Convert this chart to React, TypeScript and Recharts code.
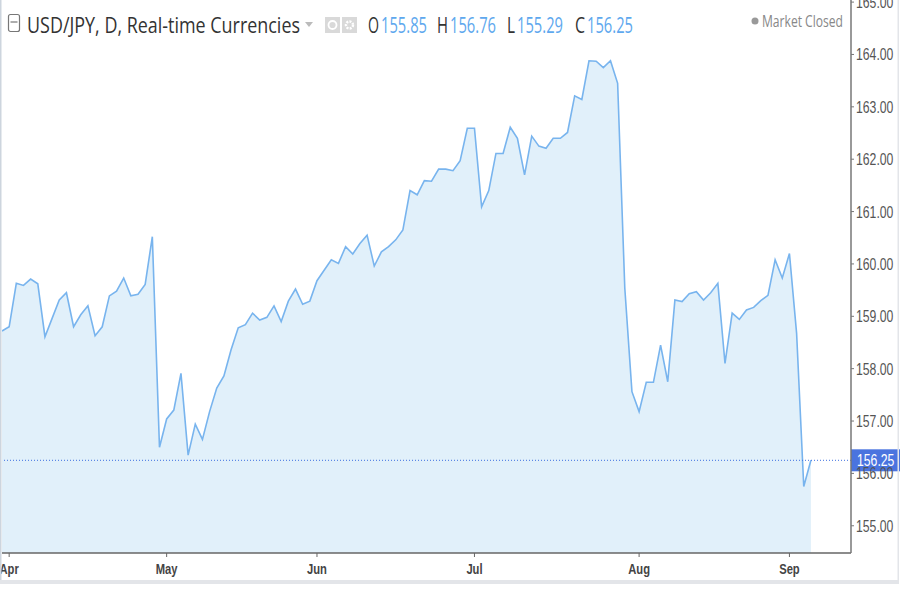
import React from 'react';
import { AreaChart, Area, XAxis, YAxis, ReferenceLine } from 'recharts';

// daily closes, USD/JPY, early Apr -> early Sep (trading day index = position)
const closes = [
  158.72, 158.80, 159.63, 159.59, 159.71, 159.62, 158.61, 158.96, 159.31, 159.45,
  158.80, 159.03, 159.20, 158.63, 158.80, 159.39, 159.48, 159.73, 159.39, 159.42,
  159.61, 160.52, 156.50, 157.04, 157.21, 157.91, 156.35, 156.94, 156.65, 157.18,
  157.63, 157.86, 158.36, 158.78, 158.84, 159.06, 158.93, 158.98, 159.20, 158.90,
  159.29, 159.52, 159.23, 159.29, 159.68, 159.88, 160.08, 160.01, 160.33, 160.19,
  160.39, 160.55, 159.96, 160.23, 160.33, 160.46, 160.65, 161.40, 161.32, 161.59,
  161.58, 161.81, 161.81, 161.78, 161.97, 162.59, 162.59, 161.09, 161.40, 162.11,
  162.11, 162.61, 162.40, 161.70, 162.44, 162.25, 162.21, 162.40, 162.40, 162.51,
  163.21, 163.14, 163.88, 163.87, 163.75, 163.88, 163.45, 159.54, 157.56, 157.18,
  157.74, 157.74, 158.45, 157.75, 159.31, 159.28, 159.43, 159.47, 159.31, 159.45,
  159.63, 158.10, 159.06, 158.94, 159.12, 159.17, 159.30, 159.40, 160.08, 159.73,
  160.20, 158.68, 155.75, 156.25,
];

// first trading day of each month (index into closes)
const monthStarts = [1, 23, 44, 66, 89, 110];
const monthLabels = ['Apr', 'May', 'Jun', 'Jul', 'Aug', 'Sep'];

const priceTicks = [155, 156, 157, 158, 159, 160, 161, 162, 163, 164, 165];

const ohlcKeys = ['O', 'H', 'L', 'C'];
const ohlcValues = [155.85, 156.76, 155.29, 156.25];

const data = closes.map((close, i) => ({ i, close }));
const lastClose = closes[closes.length - 1];

const AXIS_FONT = '"Liberation Sans", Arial, sans-serif';
const HEAD_FONT = '"Open Sans", "Noto Sans", sans-serif';

const XTick = (props: any) => {
  const { x, payload } = props;
  const idx = monthStarts.indexOf(payload.value);
  return (
    <g transform={`translate(${x},574) scale(0.8,1)`}>
      <text x={0} y={0} textAnchor="middle" fontSize={14} fontWeight="bold" fill="#444" fontFamily={AXIS_FONT}>
        {monthLabels[idx]}
      </text>
    </g>
  );
};

const YTick = (props: any) => {
  const { x, y, payload } = props;
  return (
    <g transform={`translate(${x},${y + 6}) scale(0.72,1)`}>
      <text x={0} y={0} textAnchor="start" fontSize={17} fill="#555" fontFamily={AXIS_FONT}>
        {payload.value.toFixed(2)}
      </text>
    </g>
  );
};

const PriceTag = (props: any) => {
  const { viewBox } = props;
  const left = viewBox.x + viewBox.width;
  const y = viewBox.y;
  return (
    <g>
      <rect x={left} y={y - 11} width={49} height={22} fill="#4a74df" />
      <g transform={`translate(${left + 6},${y + 6}) scale(0.72,1)`}>
        <text x={0} y={0} fontSize={17} fill="#fff" fontFamily={AXIS_FONT}>
          {lastClose.toFixed(2)}
        </text>
      </g>
    </g>
  );
};

const ohlcX = [368, 437, 507, 575];
const ohlcW = [11, 11, 8, 10];

export default function App() {
  return (
    <div style={{ position: 'fixed', left: 0, top: 0, width: 900, height: 600, background: '#fff', overflow: 'hidden' }}>
      <AreaChart width={900} height={600} data={data} margin={{ top: 0, right: 0, left: 2, bottom: 0 }}>
        <XAxis
          dataKey="i"
          type="number"
          domain={[0, 118.6]}
          allowDataOverflow
          ticks={monthStarts}
          tick={<XTick />}
          height={47}
          axisLine={{ stroke: '#666', strokeWidth: 1.5 }}
          tickLine={{ stroke: '#666' }}
          tickSize={4}
          interval={0}
        />
        <YAxis
          orientation="right"
          type="number"
          domain={[154.48, 165.04]}
          allowDataOverflow
          ticks={priceTicks}
          tick={<YTick />}
          width={49}
          axisLine={{ stroke: '#777', strokeWidth: 1.5 }}
          tickLine={{ stroke: '#777' }}
          tickSize={3}
          tickMargin={2}
          interval={0}
        />
        <Area
          type="linear"
          dataKey="close"
          stroke="#78b4ee"
          strokeWidth={1.6}
          fill="#e1f0fa"
          fillOpacity={1}
          isAnimationActive={false}
          dot={false}
          activeDot={false}
        />
        <ReferenceLine y={lastClose} stroke="#3d6ee0" strokeDasharray="1 2" strokeWidth={1} label={<PriceTag />} />
      </AreaChart>

      <svg width={900} height={600} style={{ position: 'absolute', left: 0, top: 0, pointerEvents: 'none' }}>
        {/* frame */}
        <rect x={0} y={0} width={1.5} height={582} fill="#cdd5de" />
        <rect x={0} y={580} width={899} height={4} fill="#e3e5e9" />
        <rect x={897.5} y={0} width={1.5} height={584} fill="#e3e5e9" />

        {/* header */}
        <rect x={8.5} y={14.5} width={11} height={17} rx={2} fill="none" stroke="#777" strokeWidth={1.2} />
        <line x1={10.5} y1={22} x2={17.5} y2={22} stroke="#777" strokeWidth={1.2} />
        <text x={27} y={33} fontSize={21} fill="#333" fontFamily={HEAD_FONT} textLength={273} lengthAdjust="spacingAndGlyphs">
          USD/JPY, D, Real-time Currencies
        </text>
        <path d="M305 22 L313 22 L309 27 Z" fill="#bbb" />
        <rect x={325} y={17} width={15} height={16} fill="#d9d9d9" />
        <circle cx={332.5} cy={25} r={4} fill="none" stroke="#fff" strokeWidth={1.8} />
        <rect x={342} y={17} width={15} height={16} fill="#d9d9d9" />
        <circle cx={349.5} cy={25} r={3.5} fill="none" stroke="#fff" strokeWidth={2.5} strokeDasharray="2 1.2" />
        {ohlcKeys.map((k, n) => (
          <g key={k}>
            <text x={ohlcX[n]} y={33} fontSize={21} fill="#333" fontFamily={HEAD_FONT} textLength={ohlcW[n]} lengthAdjust="spacingAndGlyphs">
              {k}
            </text>
            <text x={ohlcX[n] + ohlcW[n] + 2} y={33} fontSize={21} fill="#5ea8ee" fontFamily={HEAD_FONT} textLength={46} lengthAdjust="spacingAndGlyphs">
              {ohlcValues[n].toFixed(2)}
            </text>
          </g>
        ))}

        <circle cx={755} cy={21} r={3.5} fill="#999" />
        <text x={762} y={27} fontSize={16} fill="#888" fontFamily={HEAD_FONT} textLength={81} lengthAdjust="spacingAndGlyphs">
          Market Closed
        </text>
      </svg>
    </div>
  );
}
